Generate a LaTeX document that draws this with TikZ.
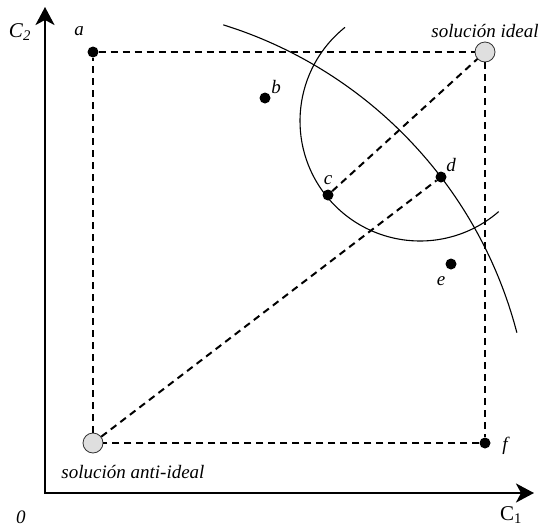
\documentclass[tikz,border=0pt]{standalone}
\usepackage{fontspec}
\setmainfont{Liberation Serif}
\usetikzlibrary{arrows.meta, positioning}
\newcommand{\lblsize}{\fontsize{19}{22}\selectfont}
\newcommand{\axsize}{\fontsize{21}{24}\selectfont}
\tikzset{
	dot/.style   ={circle, fill=black, minimum size=11pt, inner sep=0pt},
	sol/.style   ={circle, draw=black!80, fill=gray!25, line width=0.8pt, minimum size=20pt, inner sep=0pt},
	lbl/.style   ={font=\lblsize\itshape, inner sep=0pt},
	axlbl/.style ={font=\axsize, inner sep=0pt},
	guide/.style ={line width=2pt, dash pattern=on 7pt off 5pt},
	axis/.style  ={line width=2.4pt, line join=miter, {Stealth[length=18pt, width=19pt, inset=5pt]}-{Stealth[length=18pt, width=19pt, inset=5pt]}},
	curve/.style ={line width=1.1pt},
}

\begin{document}
\begin{tikzpicture}[x=1pt, y=-1pt, font=\lblsize]
	\useasboundingbox (0,0) rectangle (541,528);
	% axes
	\coordinate (o) at (45,493);
	\coordinate (ytop) at (45,7);
	\coordinate (xend) at (534,493);
	\draw[axis] (ytop) -- (o) -- (xend);
	\node[axlbl] (lc2) at (20,32) {\textit{C}\textsubscript{\textit{2}}};
	\node[axlbl] (lc1) at (511,515) {C\textsubscript{1}};
	\node[lbl] (lzero) at (21,517) {0};
	% points
	\node[sol] (ideal) at (485,52) {};
	\node[sol] (anti) at (93,443) {};
	\node[dot] (a) at (93,52) {};
	\node[dot] (b) at (265,98) {};
	\node[dot] (c) at (328,195) {};
	\node[dot] (d) at (441,177) {};
	\node[dot] (e) at (451,264) {};
	\node[dot] (f) at (485,443) {};
	% dashed frame and lines
	\draw[guide] (a) -- (ideal);
	\draw[guide] (ideal) -- (f);
	\draw[guide] (f) -- (anti);
	\draw[guide] (anti) -- (a);
	\draw[guide] (anti) -- (d);
	\draw[guide] (c) -- (ideal);
	% arcs
	\draw[curve] (anti) ++(-72.7:438) arc[start angle=-72.7, end angle=-14.6, radius=438];
	\coordinate (ctr) at (420,121);
	\draw[curve] (ctr) ++(-128.7:120) arc[start angle=-128.7, end angle=-311, radius=120];
	% labels
	\node[lbl] (la) at (79,31) {a};
	\node[lbl] (lb) at (276,87) {b};
	\node[lbl] (lc) at (328,180) {c};
	\node[lbl] (ld) at (451,165) {d};
	\node[lbl] (le) at (441,281) {e};
	\node[lbl] (lf) at (505,446) {f};
	\node[lbl] (lideal) at (485,31) {solución ideal};
	\node[lbl] (lanti) at (133,472) {solución anti-ideal};
\end{tikzpicture}
\end{document}
